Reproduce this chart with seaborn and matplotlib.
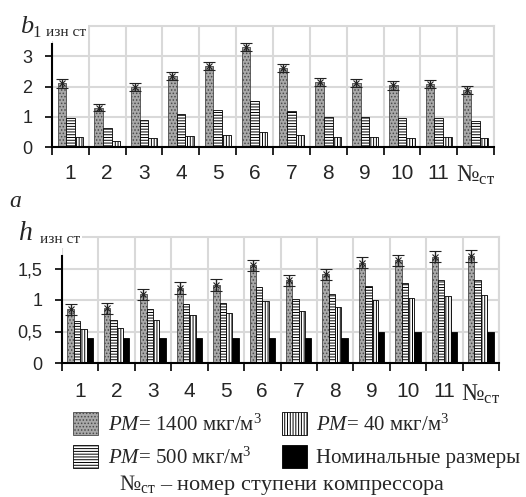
import seaborn as sns
import pandas as pd
import matplotlib.pyplot as plt

stages = ['1', '2', '3', '4', '5', '6', '7', '8', '9', '10', '11', '№ст']

# b1 (top chart)
b_1400 = [2.10, 1.30, 1.98, 2.35, 2.68, 3.30, 2.62, 2.16, 2.12, 2.04, 2.08, 1.88]
b_1400_err = [0.135, 0.125, 0.14, 0.13, 0.14, 0.14, 0.14, 0.13, 0.135, 0.14, 0.125, 0.125]
b_500 = [0.96, 0.62, 0.90, 1.09, 1.23, 1.53, 1.20, 0.99, 0.99, 0.96, 0.97, 0.87]
b_40 = [0.32, 0.21, 0.31, 0.37, 0.40, 0.49, 0.40, 0.33, 0.33, 0.31, 0.33, 0.29]

# h (bottom chart)
h_1400 = [0.85, 0.87, 1.09, 1.19, 1.24, 1.55, 1.31, 1.41, 1.59, 1.63, 1.69, 1.70]
h_1400_err = [0.085, 0.085, 0.09, 0.095, 0.09, 0.085, 0.08, 0.085, 0.085, 0.085, 0.09, 0.09]
h_500 = [0.66, 0.69, 0.86, 0.94, 0.96, 1.21, 1.02, 1.10, 1.23, 1.27, 1.31, 1.32]
h_40 = [0.54, 0.56, 0.69, 0.76, 0.79, 0.98, 0.83, 0.89, 1.00, 1.03, 1.06, 1.08]
h_nom = [0.4, 0.4, 0.4, 0.4, 0.4, 0.4, 0.4, 0.4, 0.5, 0.5, 0.5, 0.5]

series_names = ['$PM$= 1400 мкг/м$^3$', '$PM$= 500 мкг/м$^3$',
                '$PM$= 40 мкг/м$^3$', 'Номинальные размеры']

sns.set_style("white")
plt.rcParams['font.family'] = ['Liberation Sans', 'DejaVu Sans']
plt.rcParams['mathtext.fontset'] = 'custom'
plt.rcParams['mathtext.rm'] = 'Liberation Serif'
plt.rcParams['mathtext.it'] = 'Liberation Serif:italic'
plt.rcParams['hatch.linewidth'] = 0.7

styles = [
    dict(facecolor='#a9a9a9', edgecolor='#4a4a4a', hatch='.....'),
    dict(facecolor='white', edgecolor='black', hatch='------'),
    dict(facecolor='white', edgecolor='black', hatch='||||||'),
    dict(facecolor='black', edgecolor='black', hatch=None),
]

W, H = 526, 497
fig = plt.figure(figsize=(W / 100, H / 100), dpi=100)


def px_axes(l, t, r, b):
    return fig.add_axes([l / W, 1 - b / H, (r - l) / W, (b - t) / H])


def long_df(cols):
    rows = []
    for name, vals in cols:
        for s, v in zip(stages, vals):
            rows.append({'stage': s, 'value': v, 'series': name})
    return pd.DataFrame(rows)


def draw(ax, cols, err, ylim, yticks, ylabels, spine_top, xpad):
    df = long_df(cols)
    sns.barplot(data=df, x='stage', y='value', hue='series', width=0.7,
                palette=['#a9a9a9'] * len(cols), legend=False, ax=ax,
                linewidth=0.6, saturation=1, errorbar=None)
    for cont, st in zip(ax.containers, styles):
        for p in cont:
            p.set_facecolor(st['facecolor'])
            p.set_edgecolor(st['edgecolor'])
            if st['hatch']:
                p.set_hatch(st['hatch'])
    first = ax.containers[0]
    xs = [p.get_x() + p.get_width() / 2 for p in first]
    ys = [p.get_height() for p in first]
    ax.errorbar(xs, ys, yerr=err, fmt='x', color='#222222', ms=4, mew=0.8,
                elinewidth=1, capsize=4, capthick=1.2, zorder=5)

    ax.set_xlim(-0.5, len(stages) - 0.5)
    ax.set_ylim(*ylim)
    ax.set_yticks(yticks)
    ax.set_yticklabels(ylabels, fontsize=13)
    ax.set_xticks(range(len(stages)))
    labels = list(stages[:-1]) + [r'№$_{\rm ст}$']
    ax.set_xticklabels(labels, fontsize=15)
    last = ax.get_xticklabels()[-1]
    last.set_fontfamily('Liberation Serif')
    last.set_fontsize(17)
    ax.set_xticks([i - 0.5 for i in range(len(stages) + 1)], minor=True)
    ax.tick_params(axis='x', which='major', length=0, pad=xpad)
    ax.tick_params(axis='x', which='minor', length=6, width=1.2, color='black',
                   direction='out', bottom=True)
    ax.tick_params(axis='y', length=5, width=1.2, color='black', direction='out',
                   left=True, pad=9)
    ax.set_axisbelow(True)
    ax.grid(False)
    ax.grid(True, axis='y', which='major', color='#d9d9d9', lw=1.5)
    ax.grid(True, axis='x', which='minor', color='#d9d9d9', lw=1.5)
    for s in ['top', 'right']:
        ax.spines[s].set_color('#d9d9d9')
        ax.spines[s].set_linewidth(1.5)
    ax.spines['left'].set_color('black')
    ax.spines['left'].set_linewidth(1.5)
    ax.spines['left'].set_bounds(0, spine_top)
    ax.spines['bottom'].set_color('black')
    ax.spines['bottom'].set_linewidth(1.5)
    ax.set_xlabel('')
    ax.set_ylabel('')


ax1 = px_axes(52, 26, 494, 147)
draw(ax1, [(series_names[0], b_1400), (series_names[1], b_500), (series_names[2], b_40)],
     b_1400_err, (0, 4), [0, 1, 2, 3], ['0', '1', '2', '3'], 3.4, 12)

ax2 = px_axes(62, 237, 499, 363)
draw(ax2, [(series_names[0], h_1400), (series_names[1], h_500),
           (series_names[2], h_40), (series_names[3], h_nom)],
     h_1400_err, (0, 2), [0, 0.5, 1, 1.5], ['0', '0,5', '1', '1,5'], 1.7, 14)

serif = 'Liberation Serif'


def ftext(x, y, s, **kw):
    return fig.text(x / W, 1 - y / H, s, va='baseline', family=serif, **kw)


white = dict(facecolor='white', edgecolor='none', pad=1.5)
ftext(20, 33, 'b', fontsize=19, style='italic')
ftext(32, 37, '1', fontsize=12)
ftext(46, 36, 'изн ст', fontsize=11, bbox=white)
ftext(9, 207, 'а', fontsize=17, style='italic')
ftext(19, 240, 'h', fontsize=20, style='italic')
ftext(40, 243, 'изн ст', fontsize=11, bbox=white)

handles = list(ax2.containers)
leg = fig.legend([handles[0], handles[1], handles[2], handles[3]],
                 [series_names[0], series_names[1], series_names[2], series_names[3]],
                 ncol=2, loc='upper left', bbox_to_anchor=(65 / W, 1 - 404 / H),
                 frameon=False, prop={'family': serif, 'size': 15},
                 handlelength=1.2, handleheight=1.3, handletextpad=0.45,
                 columnspacing=0.95, labelspacing=0.45, borderaxespad=0)

fig.text(282 / W, 1 - 490 / H, r'№$_{\rm ст}$ – номер ступени компрессора',
         ha='center', va='baseline', family=serif, fontsize=16)

fig.savefig('out.png', dpi=100)
